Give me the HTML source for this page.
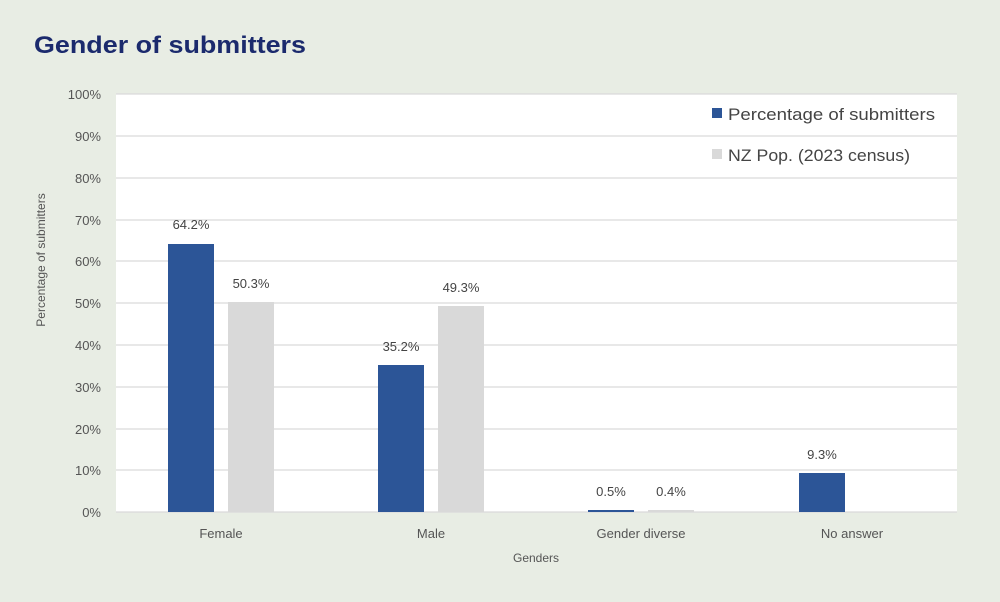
<!DOCTYPE html><html><head><style>body{margin:0;background:#e8ede4;width:1000px;height:597px;overflow:hidden;font-family:"Liberation Sans",sans-serif}</style></head><body>
<svg width="1000" height="597" xmlns="http://www.w3.org/2000/svg" font-family="Liberation Sans, sans-serif">
<text x="34" y="53" font-size="24" font-weight="bold" fill="#1b2a6d" textLength="272" lengthAdjust="spacingAndGlyphs">Gender of submitters</text>
<rect x="116" y="94" width="841" height="418" fill="#fff"/>
<g stroke="#d9d9d9" stroke-width="1.2">
<line x1="116" x2="957" y1="94" y2="94"/><line x1="116" x2="957" y1="136" y2="136"/><line x1="116" x2="957" y1="178" y2="178"/><line x1="116" x2="957" y1="220" y2="220"/><line x1="116" x2="957" y1="261" y2="261"/><line x1="116" x2="957" y1="303" y2="303"/><line x1="116" x2="957" y1="345" y2="345"/><line x1="116" x2="957" y1="387" y2="387"/><line x1="116" x2="957" y1="429" y2="429"/><line x1="116" x2="957" y1="470" y2="470"/><line x1="116" x2="957" y1="512" y2="512"/>
</g>
<g font-size="13" fill="#555" text-anchor="end">
<text x="101" y="99">100%</text><text x="101" y="141">90%</text><text x="101" y="183">80%</text><text x="101" y="225">70%</text><text x="101" y="266">60%</text><text x="101" y="308">50%</text><text x="101" y="350">40%</text><text x="101" y="392">30%</text><text x="101" y="434">20%</text><text x="101" y="475">10%</text><text x="101" y="517">0%</text>
</g>
<text transform="translate(45,260) rotate(-90)" font-size="12" fill="#555" text-anchor="middle">Percentage of submitters</text>
<g fill="#2c5597">
<rect x="168" y="244" width="46" height="268"/><rect x="378" y="365" width="46" height="147"/><rect x="588" y="510" width="46" height="2"/><rect x="799" y="473" width="46" height="39"/>
</g>
<g fill="#d9d9d9">
<rect x="228" y="302" width="46" height="210"/><rect x="438" y="306" width="46" height="206"/><rect x="648" y="510" width="46" height="2"/>
</g>
<g font-size="13" fill="#444" text-anchor="middle">
<text x="191" y="229">64.2%</text><text x="251" y="288">50.3%</text><text x="401" y="351">35.2%</text><text x="461" y="292">49.3%</text><text x="611" y="496">0.5%</text><text x="671" y="496">0.4%</text><text x="822" y="459">9.3%</text>
<text x="221" y="538" fill="#555">Female</text><text x="431" y="538" fill="#555">Male</text><text x="641" y="538" fill="#555">Gender diverse</text><text x="852" y="538" fill="#555">No answer</text>
<text x="536" y="562" fill="#555" font-size="12">Genders</text>
</g>
<rect x="712" y="108" width="10" height="10" fill="#2c5597"/><text x="728" y="120" font-size="17" fill="#444" textLength="207" lengthAdjust="spacingAndGlyphs">Percentage of submitters</text>
<rect x="712" y="149" width="10" height="10" fill="#d9d9d9"/><text x="728" y="161" font-size="17" fill="#444" textLength="182" lengthAdjust="spacingAndGlyphs">NZ Pop. (2023 census)</text>
</svg></body></html>
